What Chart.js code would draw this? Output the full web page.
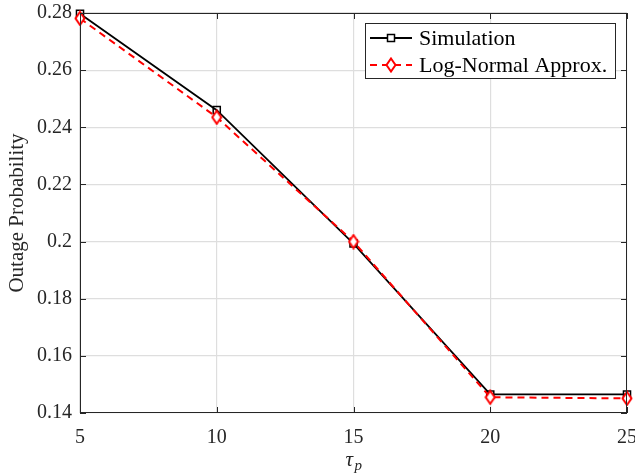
<!DOCTYPE html>
<html lang="en">
<head>
  <meta charset="UTF-8">
  <title>Outage Probability vs tau_p</title>
  <script src="https://cdn.jsdelivr.net/npm/chart.js"></script>
  <style>
    html, body { margin: 0; padding: 0; background: #fff; }
    #wrap { width: 635px; height: 476px; }
  </style>
</head>
<body>
<div id="wrap"><canvas id="outageChart" width="635" height="476"></canvas></div>
<script>
// data
const tauValues = [5, 10, 15, 20, 25];
const simulation = [0.2797, 0.2460, 0.1993, 0.1465, 0.1465];
const logNormal = [0.2781, 0.2435, 0.2000, 0.1455, 0.1451];
const xTicks = [5, 10, 15, 20, 25];
const yTicks = [0.14, 0.16, 0.18, 0.2, 0.22, 0.24, 0.26, 0.28];

const FONT = "'Liberation Serif', 'DejaVu Serif', serif";
const AXIS_COLOR = '#262626';

// tall diamond marker like matlab's 'd'
function makeDiamond(color) {
  const c = document.createElement('canvas');
  c.width = 12; c.height = 16;
  const g = c.getContext('2d');
  g.strokeStyle = color;
  g.lineWidth = 2;
  g.beginPath();
  g.moveTo(6, 1.5); g.lineTo(10.5, 8); g.lineTo(6, 14.5); g.lineTo(1.5, 8);
  g.closePath();
  g.fillStyle = '#fff';
  g.fill();
  g.stroke();
  return c;
}

// box, inward ticks, legend, x title
const framePlugin = {
  id: 'frame',
  afterDatasetsDraw(chart) {
    const ctx = chart.ctx;
    const { left, right, top, bottom } = chart.chartArea;
    const xs = chart.scales.x, ys = chart.scales.y;
    ctx.save();
    ctx.strokeStyle = AXIS_COLOR;
    ctx.lineWidth = 1;
    ctx.strokeRect(left + 0.5, top + 0.5, right - left - 1, bottom - top - 1);
    ctx.beginPath();
    xTicks.forEach(v => {
      const px = Math.round(xs.getPixelForValue(v)) + 0.5;
      ctx.moveTo(px, bottom); ctx.lineTo(px, bottom - 6);
      ctx.moveTo(px, top); ctx.lineTo(px, top + 6);
    });
    yTicks.forEach(v => {
      const py = Math.round(ys.getPixelForValue(v)) + 0.5;
      ctx.moveTo(left, py); ctx.lineTo(left + 6, py);
      ctx.moveTo(right, py); ctx.lineTo(right - 6, py);
    });
    ctx.stroke();

    // legend
    const bx = right - 262, by = top + 10, bw = 250, bh = 55;
    ctx.fillStyle = '#fff';
    ctx.fillRect(bx, by, bw, bh);
    ctx.strokeStyle = AXIS_COLOR;
    ctx.strokeRect(bx + 0.5, by + 0.5, bw, bh);
    ctx.font = '22px ' + FONT;
    ctx.textBaseline = 'middle';
    chart.data.datasets.forEach((ds, i) => {
      const y = by + 15 + i * 27;
      ctx.strokeStyle = ds.borderColor;
      ctx.lineWidth = ds.borderWidth;
      ctx.setLineDash(ds.borderDash || []);
      ctx.beginPath();
      ctx.moveTo(bx + 5, y); ctx.lineTo(bx + 47, y);
      ctx.stroke();
      ctx.setLineDash([]);
      const mx = bx + 26;
      if (ds.pointStyle === 'rect') {
        ctx.lineWidth = 1.5;
        ctx.fillStyle = '#fff';
        ctx.fillRect(mx - 3.5, y - 3.5, 7, 7);
        ctx.strokeRect(mx - 3.5, y - 3.5, 7, 7);
      } else {
        ctx.drawImage(ds.pointStyle, mx - 6, y - 8);
      }
      ctx.fillStyle = '#000';
      ctx.fillText(ds.label, bx + 54, y + 1);
    });

    // x axis title: tau with subscript p
    const cx = (left + right) / 2;
    ctx.fillStyle = AXIS_COLOR;
    ctx.textBaseline = 'alphabetic';
    ctx.font = 'italic 21px ' + FONT;
    ctx.fillText('τ', cx - 8, 466);
    ctx.font = 'italic 15px ' + FONT;
    ctx.fillText('p', cx + 1, 470);
    ctx.restore();
  }
};

new Chart(document.getElementById('outageChart'), {
  type: 'line',
  data: {
    datasets: [
      {
        label: 'Simulation',
        data: tauValues.map((t, i) => ({ x: t, y: simulation[i] })),
        borderColor: '#000000',
        borderWidth: 1.8,
        pointStyle: 'rect',
        pointRadius: 5,
        pointBorderWidth: 1.5,
        pointBackgroundColor: 'rgba(255,255,255,0)',
        pointBorderColor: '#000000',
        clip: false,
        order: 1
      },
      {
        label: 'Log-Normal Approx.',
        data: tauValues.map((t, i) => ({ x: t, y: logNormal[i] })),
        borderColor: '#ff0000',
        borderWidth: 2,
        borderDash: [7, 5],
        pointStyle: makeDiamond('#ff0000'),
        pointRadius: 6,
        clip: false,
        order: 0
      }
    ]
  },
  options: {
    responsive: false,
    animation: false,
    layout: { padding: { top: 13, right: 8, left: 0, bottom: 0 } },
    plugins: {
      legend: { display: false },
      tooltip: { enabled: false }
    },
    scales: {
      x: {
        type: 'linear',
        min: 5,
        max: 25,
        afterBuildTicks: s => { s.ticks = xTicks.map(v => ({ value: v })); },
        afterFit: s => { s.height = 63; s.paddingLeft = 0; s.paddingRight = 0; },
        grid: { color: '#dedede', lineWidth: 1.2, drawTicks: false },
        border: { display: false },
        ticks: {
          padding: 13,
          color: AXIS_COLOR,
          font: { family: FONT, size: 20 },
          maxRotation: 0
        }
      },
      y: {
        min: 0.14,
        max: 0.28,
        afterBuildTicks: s => { s.ticks = yTicks.map(v => ({ value: v })); },
        afterFit: s => { s.width = 80; s.paddingTop = 0; s.paddingBottom = 0; },
        grid: { color: '#dedede', lineWidth: 1.2, drawTicks: false },
        border: { display: false },
        ticks: {
          padding: 8,
          color: AXIS_COLOR,
          font: { family: FONT, size: 20 },
          callback: v => String(+v.toFixed(2))
        },
        title: {
          display: true,
          text: 'Outage Probability',
          color: AXIS_COLOR,
          font: { family: FONT, size: 21 },
          padding: { top: 5, bottom: 0 }
        }
      }
    }
  },
  plugins: [framePlugin]
});
</script>
</body>
</html>
